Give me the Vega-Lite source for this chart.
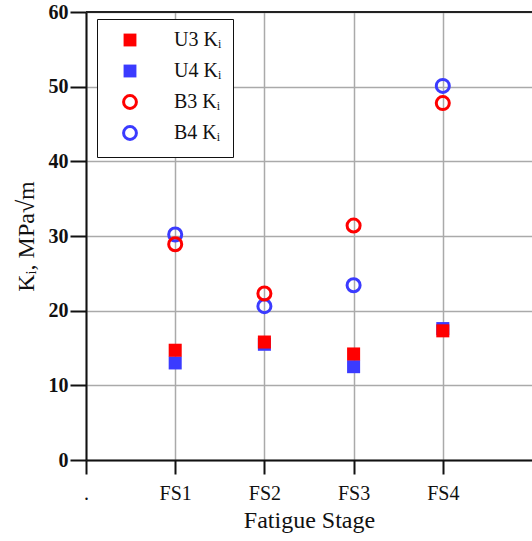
{
  "$schema": "https://vega.github.io/schema/vega-lite/v6.json",
  "width": 446,
  "height": 448,
  "autosize": "none",
  "padding": {"left": 86, "top": 12, "right": 0, "bottom": 81},
  "background": "white",
  "config": {
    "view": {"stroke": null},
    "font": "Liberation Serif",
    "legend": {
      "title": null,
      "orient": "none",
      "legendX": 11,
      "legendY": 7,
      "strokeColor": "#111111",
      "fillColor": "white",
      "padding": 11,
      "rowPadding": 5,
      "symbolSize": 165,
      "symbolStrokeWidth": 3,
      "symbolOffset": 12,
      "labelOffset": 34,
      "labelFont": "Liberation Serif",
      "labelFontSize": 20,
      "labelColor": "#111111",
      "labelLimit": 200
    }
  },
  "data": {
    "values": [
      {"stage": "FS1", "series": "U4 Kᵢ", "value": 13.0},
      {"stage": "FS2", "series": "U4 Kᵢ", "value": 15.5},
      {"stage": "FS3", "series": "U4 Kᵢ", "value": 12.5},
      {"stage": "FS4", "series": "U4 Kᵢ", "value": 17.6},
      {"stage": "FS1", "series": "U3 Kᵢ", "value": 14.7},
      {"stage": "FS2", "series": "U3 Kᵢ", "value": 15.8},
      {"stage": "FS3", "series": "U3 Kᵢ", "value": 14.2},
      {"stage": "FS4", "series": "U3 Kᵢ", "value": 17.3},
      {"stage": "FS1", "series": "B4 Kᵢ", "value": 30.2},
      {"stage": "FS2", "series": "B4 Kᵢ", "value": 20.6},
      {"stage": "FS3", "series": "B4 Kᵢ", "value": 23.4},
      {"stage": "FS4", "series": "B4 Kᵢ", "value": 50.1},
      {"stage": "FS1", "series": "B3 Kᵢ", "value": 28.9},
      {"stage": "FS2", "series": "B3 Kᵢ", "value": 22.3},
      {"stage": "FS3", "series": "B3 Kᵢ", "value": 31.4},
      {"stage": "FS4", "series": "B3 Kᵢ", "value": 47.8}
    ]
  },
  "layer": [
    {
      "mark": {"type": "rule", "color": "#222222", "strokeWidth": 2},
      "encoding": {"y": {"datum": 60, "type": "quantitative"}}
    },
    {
      "mark": {"type": "point", "size": 170, "strokeWidth": 3, "opacity": 1},
      "encoding": {
        "x": {
          "field": "stage",
          "type": "ordinal",
          "scale": {"type": "point", "padding": 0, "domain": [".", "FS1", "FS2", "FS3", "FS4", "_"]},
          "axis": {
            "title": "Fatigue Stage",
            "values": [".", "FS1", "FS2", "FS3", "FS4"],
            "titleFont": "Liberation Serif",
            "titleFontSize": 24,
            "titleFontWeight": "normal",
            "titleColor": "#111111",
            "titlePadding": 5,
            "labelFont": "Liberation Serif",
            "labelFontSize": 20,
            "labelColor": "#111111",
            "labelPadding": 9,
            "labelAngle": 0,
            "domainColor": "#111111",
            "domainWidth": 2,
            "tickColor": "#111111",
            "tickWidth": 2,
            "tickSize": 14,
            "grid": true,
            "gridColor": "#aaaaaa",
            "gridWidth": 1.5
          }
        },
        "y": {
          "field": "value",
          "type": "quantitative",
          "scale": {"domain": [0, 60], "nice": false},
          "axis": {
            "title": "Kᵢ, MPa√m",
            "titleFont": "Liberation Serif",
            "titleFontSize": 24,
            "titleFontWeight": "normal",
            "titleColor": "#111111",
            "titlePadding": 10,
            "values": [0, 10, 20, 30, 40, 50, 60],
            "labelFont": "Liberation Serif",
            "labelFontSize": 20,
            "labelFontWeight": "bold",
            "labelColor": "#111111",
            "labelPadding": 2,
            "domainColor": "#111111",
            "domainWidth": 2,
            "tickColor": "#111111",
            "tickWidth": 2,
            "tickSize": 16,
            "grid": true,
            "gridColor": "#aaaaaa",
            "gridWidth": 1.5
          }
        },
        "shape": {
          "field": "series",
          "type": "nominal",
          "scale": {
            "domain": ["U3 Kᵢ", "U4 Kᵢ", "B3 Kᵢ", "B4 Kᵢ"],
            "range": ["square", "square", "circle", "circle"]
          },
          "legend": {
            "encode": {"legend": {"update": {"strokeWidth": {"value": 2}}}}
          }
        },
        "fill": {
          "field": "series",
          "type": "nominal",
          "scale": {
            "domain": ["U3 Kᵢ", "U4 Kᵢ", "B3 Kᵢ", "B4 Kᵢ"],
            "range": ["#ff0000", "#3b3bff", "transparent", "transparent"]
          },
          "legend": {
            "encode": {"legend": {"update": {"strokeWidth": {"value": 2}}}}
          }
        },
        "stroke": {
          "field": "series",
          "type": "nominal",
          "scale": {
            "domain": ["U3 Kᵢ", "U4 Kᵢ", "B3 Kᵢ", "B4 Kᵢ"],
            "range": ["transparent", "transparent", "#ff0000", "#3b3bff"]
          },
          "legend": {
            "encode": {"legend": {"update": {"strokeWidth": {"value": 2}}}}
          }
        }
      }
    }
  ]
}
